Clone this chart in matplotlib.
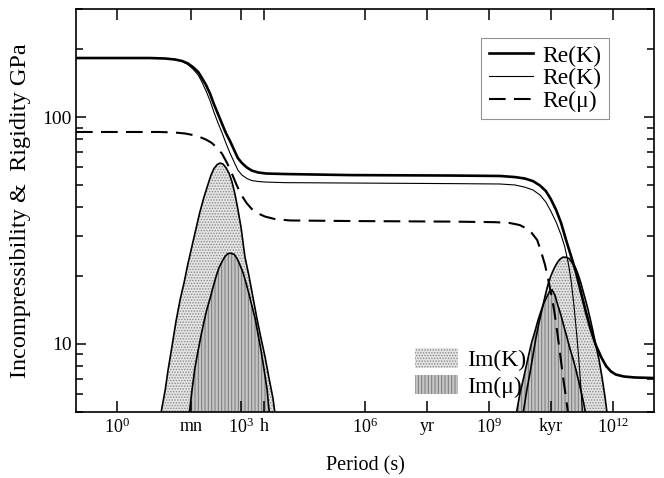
import matplotlib
matplotlib.use('Agg')
import matplotlib.pyplot as plt
from matplotlib.patches import Patch
from matplotlib.ticker import FixedLocator, FixedFormatter, NullLocator
import numpy as np

plt.rcParams['font.family'] = ['Liberation Serif', 'DejaVu Serif']
plt.rcParams['mathtext.fontset'] = 'stix'
plt.rcParams['hatch.linewidth'] = 0.7

# log10(period in s) and values in GPa
# Re(K), thick
reK1_logT = [-1.0, 0.79, 1.16, 1.40, 1.57, 1.71, 1.83, 1.96, 2.05, 2.15, 2.25, 2.34,
             2.44, 2.54, 2.63, 2.73, 2.83, 2.92, 3.02, 3.14, 3.26, 3.41, 3.60, 4.06,
             5.64, 8.06, 9.27, 9.63, 9.87, 10.07, 10.24, 10.38, 10.50, 10.63, 10.75,
             10.87, 10.99, 11.11, 11.23, 11.35, 11.47, 11.59, 11.72, 11.84, 11.96,
             12.08, 12.27, 12.54, 13.0]
reK1_val = [182.3, 182.3, 181.4, 179.6, 176.9, 172.5, 166.4, 158.2, 148.8, 138.6, 126.5, 114.2,
            103.2, 93.2, 85.1, 78.5, 71.6, 66.0, 62.7, 59.9, 58.1, 57.0, 56.4, 56.1,
            55.5, 55.25, 55.0, 54.4, 53.6, 52.2, 49.9, 47.2, 43.5, 38.9, 34.1,
            28.7, 24.4, 20.7, 16.9, 13.8, 11.5, 9.87, 8.74, 7.97, 7.54,
            7.31, 7.17, 7.10, 7.06]

# Re(K), thin
reK2_logT = [-1.0, 0.79, 1.16, 1.40, 1.57, 1.71, 1.83, 1.96, 2.05, 2.15, 2.25, 2.34,
             2.44, 2.54, 2.63, 2.73, 2.83, 2.92, 3.02, 3.14, 3.26, 3.41, 3.60, 4.06,
             5.64, 8.06, 9.27, 9.63, 9.87, 10.07, 10.24, 10.38, 10.50, 10.63, 10.75,
             10.84, 10.92, 10.99, 11.06, 11.13, 11.18, 11.23, 11.28]
reK2_val = [182.3, 182.3, 181.4, 179.6, 176.0, 170.7, 163.1, 153.4, 142.9, 130.4, 117.8, 105.3,
            94.2, 85.1, 76.9, 69.4, 63.4, 58.4, 55.5, 53.6, 52.5, 52.0, 51.7, 51.4,
            51.2, 50.9, 50.7, 50.2, 49.1, 47.7, 45.3, 42.2, 38.5, 34.4, 30.2,
            26.7, 22.9, 19.1, 14.8, 10.9, 8.48, 6.38, 4.61]

# Re(mu), dashed
remu_logT = [-1.0, 1.03, 1.40, 1.64, 1.83, 2.00, 2.15, 2.29, 2.42, 2.54, 2.66, 2.78,
             2.90, 3.02, 3.14, 3.26, 3.41, 3.58, 3.82, 4.18, 5.64, 8.06, 9.15, 9.51,
             9.75, 9.92, 10.04, 10.17, 10.26, 10.36, 10.43, 10.50, 10.58, 10.65,
             10.72, 10.79, 10.87, 10.94]
remu_val = [86.0, 86.0, 85.5, 84.7, 83.4, 81.7, 79.6, 76.9, 73.1, 68.8, 62.7, 56.1,
            49.7, 44.9, 41.6, 39.3, 37.6, 36.4, 35.5, 35.0, 34.8, 34.6, 34.4, 34.1,
            33.4, 32.2, 30.8, 28.7, 25.7, 22.3, 19.5, 16.9, 14.1, 11.5,
            9.19, 7.28, 5.76, 4.61]

# Im(K) peaks
imK_a_logT = [1.03, 1.08, 1.16, 1.23, 1.33, 1.42, 1.52, 1.62, 1.71, 1.81, 1.91, 2.00,
              2.10, 2.20, 2.27, 2.34, 2.42, 2.49, 2.56, 2.63, 2.71, 2.78, 2.85, 2.92,
              3.00, 3.09, 3.19, 3.29, 3.38, 3.48, 3.58, 3.67, 3.77, 3.84]
imK_a_val = [4.61, 5.20, 6.25, 7.66, 9.87, 12.5, 15.6, 18.7, 22.5, 27.0, 32.4, 38.1,
             44.4, 50.7, 55.5, 59.3, 61.8, 62.7, 62.1, 59.9, 56.4, 51.7, 45.8, 39.3,
             32.4, 24.3, 19.9, 15.9, 13.0, 10.6, 8.74, 7.13, 5.76, 4.61]
imK_b_logT = [9.80, 9.85, 9.92, 10.00, 10.07, 10.14, 10.21, 10.29, 10.36, 10.43, 10.50,
              10.58, 10.65, 10.72, 10.79, 10.87, 10.94, 11.01, 11.09, 11.16, 11.23,
              11.30, 11.38, 11.45, 11.52, 11.59, 11.67, 11.74, 11.81, 11.86, 11.88]
imK_b_val = [4.61, 5.20, 6.25, 7.50, 8.92, 10.6, 12.3, 14.2, 16.2, 18.2, 19.9,
             21.5, 22.7, 23.6, 24.1, 24.1, 23.8, 22.9, 21.8, 20.3, 18.5,
             16.6, 14.7, 13.0, 11.4, 9.87, 8.48, 7.13, 5.88, 5.00, 4.61]

# Im(mu) peaks
immu_a_logT = [1.71, 1.76, 1.81, 1.88, 1.96, 2.03, 2.10, 2.17, 2.25, 2.32, 2.39, 2.46,
               2.54, 2.61, 2.68, 2.75, 2.83, 2.90, 2.97, 3.05, 3.12, 3.19, 3.26, 3.34,
               3.41, 3.48, 3.55, 3.63, 3.67, 3.72]
immu_a_val = [4.61, 5.20, 6.25, 7.81, 9.38, 10.9, 12.5, 14.2, 15.9, 17.8, 19.7, 21.6,
              23.1, 24.3, 25.0, 25.1, 24.8, 23.8, 22.3, 20.5, 18.5, 16.6, 14.7, 12.9,
              11.0, 9.38, 7.81, 6.25, 5.20, 4.61]
immu_b_logT = [9.63, 9.68, 9.75, 9.83, 9.90, 9.97, 10.04, 10.12, 10.19, 10.26, 10.33,
               10.41, 10.48, 10.53, 10.60, 10.67, 10.75, 10.82, 10.89, 10.96, 11.04,
               11.11, 11.18, 11.26, 11.33, 11.38]
immu_b_val = [4.61, 5.10, 6.00, 6.92, 7.90, 9.01, 10.2, 11.4, 12.7, 13.9, 15.1,
              16.2, 17.1, 17.3, 16.4, 14.8, 13.3, 11.9, 10.7, 9.57, 8.56,
              7.66, 6.78, 5.88, 5.10, 4.61]

xtick_pos = [1, 60, 1e3, 3600, 1e6, 3.156e7, 1e9, 3.156e10, 1e12]
xtick_lab = [r'$\mathregular{10^{0}}$', 'mn', r'$\mathregular{10^{3}}$', 'h',
             r'$\mathregular{10^{6}}$', 'yr', r'$\mathregular{10^{9}}$', 'kyr',
             r'$\mathregular{10^{12}}$']

fig = plt.figure(figsize=(6.64, 4.78), dpi=100)
ax = fig.add_axes([76/664, 66/478, 578/664, 403/478])

stip_fc, stip_hc = '#e4e4e4', '#8c8c8c'
hat_fc, hat_hc = '#c4c4c4', '#7a7a7a'


def peak(logT, val, fc, hc, hatch):
    T = 10 ** np.array(logT)
    ax.fill_between(T, val, 1, facecolor=fc, edgecolor=hc, hatch=hatch, lw=0, zorder=1)
    ax.plot(T, val, color='black', lw=1.2, zorder=1.2)


peak(imK_a_logT, imK_a_val, stip_fc, stip_hc, '......')
peak(imK_b_logT, imK_b_val, stip_fc, stip_hc, '......')
peak(immu_a_logT, immu_a_val, hat_fc, hat_hc, '|||||')
peak(immu_b_logT, immu_b_val, hat_fc, hat_hc, '|||||')

l1, = ax.plot(10 ** np.array(reK1_logT), reK1_val, color='black', lw=1.9, label='Re(K)')
l2, = ax.plot(10 ** np.array(reK2_logT), reK2_val, color='black', lw=0.8, label='Re(K)')
l3, = ax.plot(10 ** np.array(remu_logT), remu_val, color='black', lw=1.5,
              dashes=(8, 4), label='Re(μ)')

ax.set_xscale('log')
ax.set_yscale('log')
ax.set_xlim(0.1, 1e13)
ax.set_ylim(5, 300)

ax.xaxis.set_major_locator(FixedLocator(xtick_pos))
ax.xaxis.set_major_formatter(FixedFormatter(xtick_lab))
ax.xaxis.set_minor_locator(NullLocator())
ax.yaxis.set_major_locator(FixedLocator([10, 100]))
ax.yaxis.set_major_formatter(FixedFormatter(['10', '100']))
ax.yaxis.set_minor_locator(FixedLocator([5, 6, 7, 8, 9, 20, 30, 40, 50, 60, 70, 80, 90, 200, 300]))

ax.tick_params(which='both', direction='in', top=True, right=True, width=1.1)
ax.tick_params(axis='x', which='major', length=8, labelsize=13, pad=4)
ax.tick_params(axis='y', which='major', length=7, labelsize=14, pad=3)
ax.tick_params(axis='y', which='minor', length=5)
for s in ax.spines.values():
    s.set_linewidth(1.2)

ax.set_xlabel('Period (s)', fontsize=14.5, labelpad=14)
ax.set_ylabel('Incompressibility &  Rigidity GPa', fontsize=17.5, labelpad=8)

leg1 = ax.legend(handles=[l1, l2, l3], loc='upper right', bbox_to_anchor=(0.922, 0.928),
                 fontsize=17, frameon=True, fancybox=False, edgecolor='#777777',
                 handlelength=1.9, handletextpad=0.4, labelspacing=0.05,
                 borderpad=0.3, borderaxespad=0)
leg1.get_frame().set_linewidth(0.8)
ax.add_artist(leg1)

h1 = Patch(facecolor=stip_fc, edgecolor=stip_hc, hatch='......', lw=0)
h2 = Patch(facecolor=hat_fc, edgecolor=hat_hc, hatch='|||||', lw=0)
ax.legend(handles=[h1, h2], labels=['Im(K)', 'Im(μ)'], loc='upper left',
          bbox_to_anchor=(0.587, 0.158), fontsize=17, frameon=False,
          handlelength=1.8, handleheight=0.9, handletextpad=0.4,
          labelspacing=0.15, borderpad=0, borderaxespad=0)

fig.savefig('out.png', dpi=100)
